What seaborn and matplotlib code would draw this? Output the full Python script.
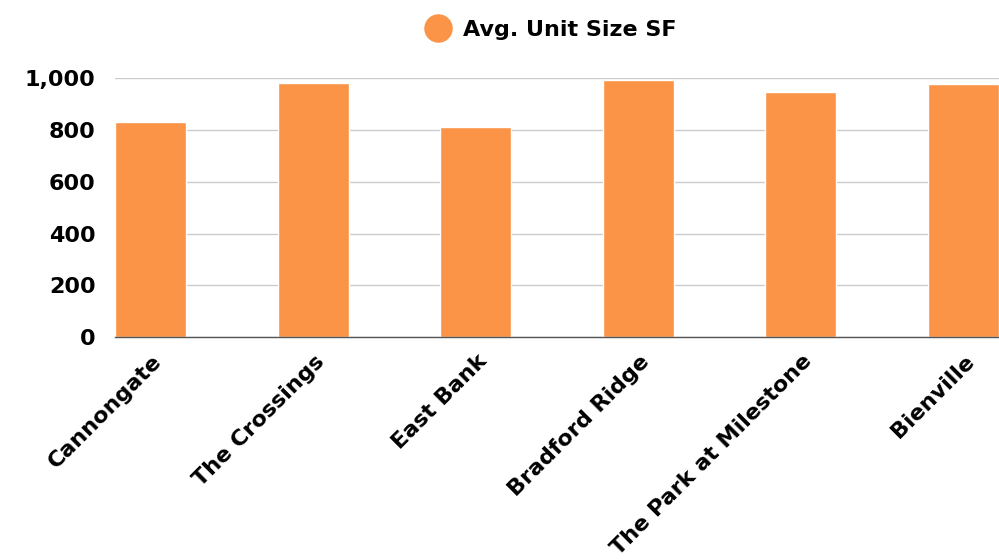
import matplotlib
matplotlib.use("Agg")
import matplotlib.pyplot as plt
import seaborn as sns
import pandas as pd
from matplotlib.lines import Line2D
import matplotlib.transforms as mtransforms

categories = ["Cannongate", "The Crossings", "East Bank", "Bradford Ridge",
              "The Park at Milestone", "Bienville"]
avg_unit_size = [832, 983, 811, 993, 948, 977]
y_ticks = [0, 200, 400, 600, 800, 1000]
y_tick_labels = ["0", "200", "400", "600", "800", "1,000"]
series_name = "Avg. Unit Size SF"

df = pd.DataFrame({"Property": categories, "Size": avg_unit_size})

sns.set_theme(style="white")
plt.rcParams["font.family"] = ["DejaVu Sans"]
W = "bold"
TXT = "#000000"

bar_color = "#FB9447"
fig = plt.figure(figsize=(9.99, 5.60), dpi=100)
ax = fig.add_axes([0.1151, 0.3977, 0.8849, 0.4625])

sns.barplot(data=df, x="Property", y="Size", color=bar_color, width=0.436,
            saturation=1, ax=ax, zorder=3)

ax.set_xlim(-0.218, 5.218)
ax.set_ylim(0, 1000)
ax.set_yticks(y_ticks)
ax.set_yticklabels(y_tick_labels, fontsize=16, fontweight=W, color=TXT)
ax.yaxis.grid(True, color="#cccccc", linewidth=1.0, zorder=0)
ax.xaxis.grid(False)
ax.set_xlabel("")
ax.set_ylabel("")
for s in ["top", "right", "left"]:
    ax.spines[s].set_visible(False)
ax.spines["bottom"].set_color("#555555")
ax.spines["bottom"].set_linewidth(1.0)
ax.spines["bottom"].set_zorder(4)
ax.tick_params(axis="y", length=0, pad=14)
ax.tick_params(axis="x", length=0, pad=10)
ax.set_xticks(range(len(categories)))
ax.set_xticklabels(categories, rotation=45, ha="right", rotation_mode="anchor",
                   fontsize=16, fontweight=W, color=TXT)
offset = mtransforms.ScaledTranslation(1 / 100, 0, fig.dpi_scale_trans)
for lbl in ax.get_xticklabels():
    lbl.set_transform(lbl.get_transform() + offset)

handle = Line2D([], [], marker="o", linestyle="none", markersize=19.5,
                markerfacecolor=bar_color, markeredgecolor=bar_color)
fig.legend([handle], [series_name], loc="center", bbox_to_anchor=(0.551, 0.947),
           frameon=False, prop={"weight": W, "size": 16},
           handletextpad=0.55, handlelength=1.2, labelcolor=TXT)

fig.savefig("out.png", dpi=100)
